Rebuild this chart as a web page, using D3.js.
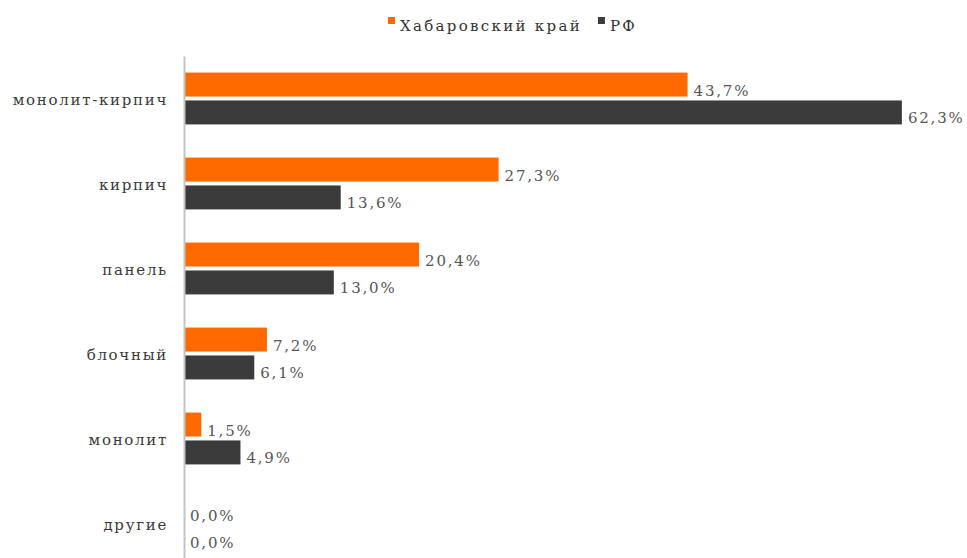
<!DOCTYPE html>
<html>
<head>
<meta charset="utf-8">
<script src="https://cdn.jsdelivr.net/npm/d3@7"></script>
<style>
  html, body { margin: 0; padding: 0; background: #fff; }
  svg { display: block; }
</style>
</head>
<body>
<svg id="chart" width="967" height="558"></svg>
<script>
// Housing construction by wall material, share of total (%)
const categories = ["монолит-кирпич", "кирпич", "панель", "блочный", "монолит", "другие"];
const seriesNames = ["Хабаровский край", "РФ"];
const khabarovsk = [43.7, 27.3, 20.4, 7.2, 1.5, 0.0];
const russia = [62.3, 13.6, 13.0, 6.1, 4.9, 0.0];
const colors = ["#ff6a00", "#3b3b3b"];

const seriesValues = [khabarovsk, russia];
const rows = categories.map((c, i) => ({
  category: c,
  values: seriesNames.map((s, k) => ({ series: s, k, value: seriesValues[k][i] }))
}));

const svg = d3.select("#chart");
const serif = "'DejaVu Serif', 'Liberation Serif', serif";

const x = d3.scaleLinear().domain([0, 65]).range([184, 933]);
const y0 = d3.scaleBand().domain(categories).range([56, 566])
  .paddingInner(0.39).paddingOuter(0.195);
const y1 = d3.scaleBand().domain(seriesNames).range([0, y0.bandwidth()]).paddingInner(0.14);

const fmt = v => v.toFixed(1).replace(".", ",") + "%";

// Bars
const groups = svg.append("g").selectAll("g").data(rows).join("g")
  .attr("transform", d => `translate(0,${y0(d.category)})`);

groups.selectAll("rect").data(d => d.values).join("rect")
  .attr("x", x(0))
  .attr("y", d => y1(d.series))
  .attr("width", d => x(d.value) - x(0))
  .attr("height", y1.bandwidth())
  .attr("fill", d => colors[d.k]);

// Value labels
groups.selectAll("text").data(d => d.values).join("text")
  .attr("x", d => x(d.value) + 6)
  .attr("y", d => y1(d.series) + y1.bandwidth() - 1)
  .attr("font-family", serif)
  .attr("font-size", 15)
  .attr("letter-spacing", 1.8)
  .attr("fill", "#555")
  .text(d => fmt(d.value));

// Category axis
const axis = svg.append("g")
  .attr("transform", `translate(${x(0)},0)`)
  .call(d3.axisLeft(y0).tickSize(0).tickPadding(16));
axis.select(".domain").attr("stroke", "#c4c4c4").attr("stroke-width", 2);
axis.selectAll(".tick text")
  .attr("font-family", serif)
  .attr("font-size", 15)
  .attr("letter-spacing", 1.7)
  .attr("fill", "#3a3a3a")
  .attr("dy", "0.45em");

// Legend
const legend = svg.append("g").attr("transform", "translate(388,0)");
let lx = 0;
seriesNames.forEach((name, k) => {
  legend.append("rect")
    .attr("x", lx).attr("y", 17).attr("width", 7).attr("height", 7)
    .attr("fill", colors[k]);
  const t = legend.append("text")
    .attr("x", lx + 12).attr("y", 31)
    .attr("font-family", serif)
    .attr("font-size", 15)
    .attr("letter-spacing", 2.3)
    .attr("fill", "#333")
    .text(name);
  lx += 12 + t.node().getComputedTextLength() + 16;
});
</script>
</body>
</html>
